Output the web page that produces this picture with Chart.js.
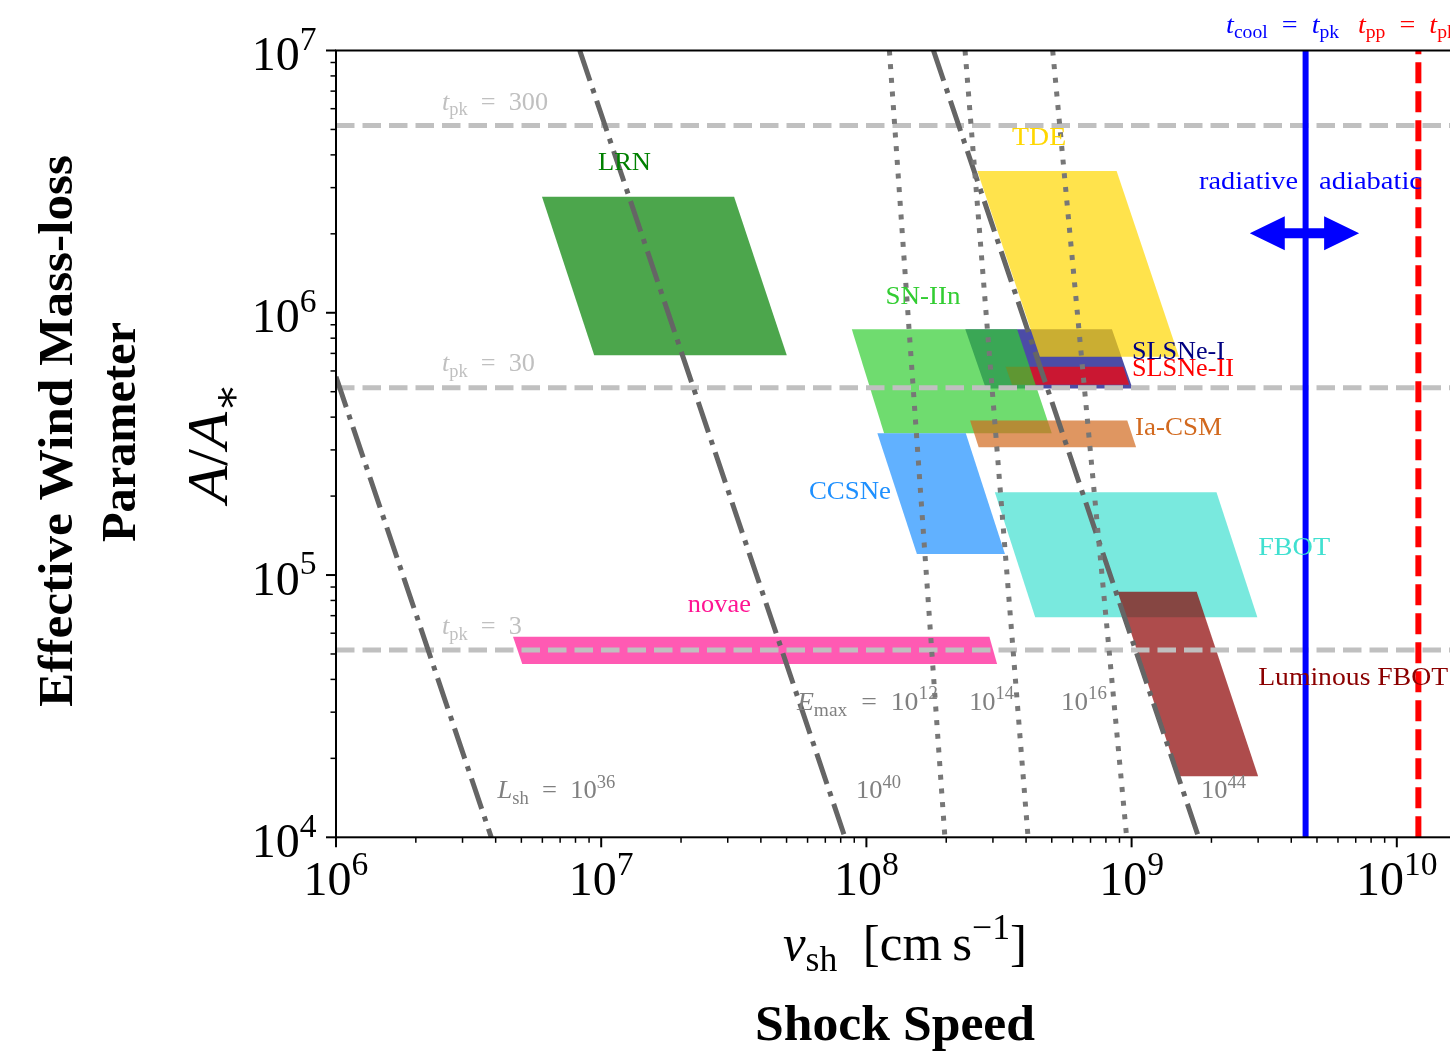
<!DOCTYPE html>
<html>
<head>
<meta charset="utf-8">
<script src="https://cdn.jsdelivr.net/npm/chart.js@4.4.1/dist/chart.umd.min.js"></script>
<style>
  html, body { margin: 0; padding: 0; background: #ffffff; overflow: hidden; width: 1450px; height: 1053px; }
  #wrap { position: absolute; left: 0; top: 0; width: 1560px; height: 1053px; }
</style>
</head>
<body>
<div id="wrap"><canvas id="c" width="1560" height="1053"></canvas></div>
<script>
// ---------------- data ----------------
// axis ranges: shock speed v_sh [cm/s] and wind parameter A/A*
const xRange = [1e6, 3.1623e10];
const yRange = [1e4, 1e7];
const xTickExp = [6, 7, 8, 9, 10];
const yTickExp = [4, 5, 6, 7];

// transient classes; corners listed top-left, top-right, bottom-right, bottom-left
const classNames = ['novae', 'LRN', 'SLSNe-I', 'SLSNe-II', 'SN-IIn', 'Ia-CSM', 'CCSNe', 'TDE', 'FBOT', 'Luminous FBOT'];
const novaeV = [4.65e6, 2.91e8, 3.11e8, 5.04e6];
const novaeA = [5.82e4, 5.82e4, 4.58e4, 4.58e4];
const lrnV   = [5.98e6, 3.17e7, 5.01e7, 9.41e6];
const lrnA   = [2.77e6, 2.77e6, 6.89e5, 6.89e5];
const slsn1V = [2.36e8, 8.43e8, 1.008e9, 2.82e8];
const slsn1A = [8.65e5, 8.65e5, 5.14e5, 5.14e5];
const slsn2V = [3.35e8, 9.30e8, 9.79e8, 3.54e8];
const slsn2A = [6.23e5, 6.23e5, 5.31e5, 5.31e5];
const sn2nV  = [8.81e7, 3.70e8, 5.00e8, 1.166e8];
const sn2nA  = [8.65e5, 8.65e5, 3.47e5, 3.47e5];
const iacsmV = [2.46e8, 9.63e8, 1.04e9, 2.65e8];
const iacsmA = [3.88e5, 3.88e5, 3.07e5, 3.07e5];
const ccsnV  = [1.10e8, 2.37e8, 3.33e8, 1.55e8];
const ccsnA  = [3.47e5, 3.47e5, 1.204e5, 1.204e5];
const tdeV   = [2.62e8, 8.78e8, 1.51e9, 4.51e8];
const tdeA   = [3.47e6, 3.47e6, 6.80e5, 6.80e5];
const fbotV  = [3.05e8, 2.09e9, 2.98e9, 4.33e8];
const fbotA  = [2.07e5, 2.07e5, 6.9e4, 6.9e4];
const lfbotV = [8.86e8, 1.76e9, 3.00e9, 1.50e9];
const lfbotA = [8.64e4, 8.64e4, 1.71e4, 1.71e4];

// peak-time contours (days) and their A/A* levels
const tpkValues = [300, 30, 3];
const tpkA = [5.18e6, 5.18e5, 5.18e4];

// shock luminosity contours, log10(L_sh) and end points (v, A)
const lshExp = [36, 40, 44];
const lshV = [[1.0e6, 3.85e6], [8.3e6, 8.3e7], [1.79e8, 1.79e9]];
const lshA = [[5.7e5, 1e4], [1e7, 1e4], [1e7, 1e4]];

// maximum particle energy contours, log10(E_max) and end points (v, A)
const emaxExp = [12, 14, 16];
const emaxV = [[1.221e8, 1.977e8], [2.355e8, 4.07e8], [5.04e8, 9.58e8]];
const emaxA = [[1e7, 1e4], [1e7, 1e4], [1e7, 1e4]];

// characteristic speeds
const tCoolV = 4.53e9;
const tPpV = 1.206e10;
const arrowV = [2.79e9, 7.21e9];
const arrowA = 2.01e6;

// ---------------- styling ----------------
const regionVerts = [
  [novaeV, novaeA], [lrnV, lrnA], [slsn1V, slsn1A], [slsn2V, slsn2A], [sn2nV, sn2nA],
  [iacsmV, iacsmA], [ccsnV, ccsnA], [tdeV, tdeA], [fbotV, fbotA], [lfbotV, lfbotA]
];
const regionRGB = ['255,20,147', '0,128,0', '0,0,128', '255,0,0', '50,205,50',
                   '210,105,30', '30,144,255', '255,215,0', '64,224,208', '139,0,0'];

function polygon(v, a) {
  const pts = v.map((x, i) => ({ x: x, y: a[i] }));
  pts.push({ x: v[0], y: a[0] });
  return pts;
}
function segment(v, a) {
  return [{ x: v[0], y: a[0] }, { x: v[1], y: a[1] }];
}

const datasets = [];
regionVerts.forEach(([v, a], i) => {
  datasets.push({
    label: classNames[i],
    data: polygon(v, a),
    showLine: true,
    fill: 'shape',
    backgroundColor: 'rgba(' + regionRGB[i] + ',0.7)',
    borderColor: 'rgba(0,0,0,0)',
    borderWidth: 0,
    pointRadius: 0,
    clip: 0
  });
});
tpkA.forEach((a, i) => {
  datasets.push({
    label: 't_pk=' + tpkValues[i],
    data: segment(xRange, [a, a]),
    showLine: true, fill: false,
    borderColor: '#c0c0c0', borderWidth: 5, borderDash: [18.5, 8],
    borderCapStyle: 'butt', pointRadius: 0, clip: 0
  });
});
lshExp.forEach((e, i) => {
  datasets.push({
    label: 'L_sh=1e' + e,
    data: segment(lshV[i], lshA[i]),
    showLine: true, fill: false,
    borderColor: '#656565', borderWidth: 5, borderDash: [32, 8, 5, 8],
    borderCapStyle: 'butt', pointRadius: 0, clip: 0
  });
});
emaxExp.forEach((e, i) => {
  datasets.push({
    label: 'E_max=1e' + e,
    data: segment(emaxV[i], emaxA[i]),
    showLine: true, fill: false,
    borderColor: '#777777', borderWidth: 5, borderDash: [5, 8.7],
    borderCapStyle: 'butt', pointRadius: 0, clip: 0
  });
});
datasets.push({
  label: 't_cool=t_pk',
  data: segment([tCoolV, tCoolV], yRange),
  showLine: true, fill: false, borderColor: '#0000ff', borderWidth: 6,
  pointRadius: 0, clip: 0
});
datasets.push({
  label: 't_pp=t_pk',
  data: segment([tPpV, tPpV], yRange),
  showLine: true, fill: false, borderColor: '#ff0000', borderWidth: 6,
  borderDash: [21, 8], borderCapStyle: 'butt', pointRadius: 0, clip: 0
});
// first entry is painted first
datasets.forEach((d, i) => { d.order = datasets.length - i; });

// ---------------- text helpers ----------------
const SERIF = '"Liberation Serif", "Times New Roman", "DejaVu Serif", serif';
function fontFor(kind, size, bold) {
  const small = kind === 'sub' || kind === 'sup';
  const s = small ? size * 0.7 : size;
  return (kind === 'i' ? 'italic ' : '') + (bold ? 'bold ' : '') + s.toFixed(2) + 'px ' + SERIF;
}
// segments: [text, kind] with kind r (roman), i (italic), sub, sup
function drawRich(ctx, segs, x, y, o) {
  ctx.save();
  let total = 0;
  const widths = segs.map(([t, k]) => {
    ctx.font = fontFor(k, o.size, o.bold);
    const w = ctx.measureText(t).width;
    total += w;
    return w;
  });
  const sx = o.width ? o.width / total : (o.sx || 1);
  ctx.translate(x, y);
  if (o.rotate) ctx.rotate(o.rotate);
  ctx.scale(sx, 1);
  let cx = o.align === 'center' ? -total / 2 : (o.align === 'right' ? -total : 0);
  const base = o.middle ? o.size * 0.33 : 0;
  ctx.fillStyle = o.color || '#000';
  ctx.textBaseline = 'alphabetic';
  ctx.textAlign = 'left';
  segs.forEach(([t, k], i) => {
    ctx.font = fontFor(k, o.size, o.bold);
    const dy = k === 'sub' ? o.size * 0.22 : (k === 'sup' ? -o.size * 0.42 : 0);
    ctx.fillText(t, cx, base + dy);
    cx += widths[i];
  });
  ctx.restore();
}

const EQ = '\u2002=\u2002';
const annotations = [
  { t: [[classNames[1], 'r']], v: 1.224e7, a: 3.76e6, align: 'center', color: '#008000', w: 53 },
  { t: [[classNames[7], 'r']], v: 4.48e8, a: 4.69e6, align: 'center', color: '#ffd700', w: 54 },
  { t: [[classNames[4], 'r']], v: 1.635e8, a: 1.162e6, align: 'center', color: '#32cd32', w: 75 },
  { t: [[classNames[2], 'r']], v: 1.003e9, a: 7.21e5, align: 'left', color: '#000080', w: 93 },
  { t: [[classNames[3], 'r']], v: 1.003e9, a: 6.18e5, align: 'left', color: '#ff0000', w: 102 },
  { t: [[classNames[5], 'r']], v: 1.03e9, a: 3.70e5, align: 'left', color: '#d2691e', w: 87 },
  { t: [[classNames[6], 'r']], v: 8.67e7, a: 2.10e5, align: 'center', color: '#1e90ff', w: 82 },
  { t: [[classNames[8], 'r']], v: 3.0e9, a: 1.29e5, align: 'left', color: '#40e0d0', w: 72 },
  { t: [[classNames[9], 'r']], v: 3.0e9, a: 4.12e4, align: 'left', color: '#8b0000', w: 190 },
  { t: [[classNames[0], 'r']], v: 2.79e7, a: 7.76e4, align: 'center', color: '#ff1493', w: 63 },
  { t: [['t', 'i'], ['pk', 'sub'], [EQ + tpkValues[0], 'r']], v: 2.51e6, a: 6.42e6, align: 'left', color: '#c0c0c0', w: 106 },
  { t: [['t', 'i'], ['pk', 'sub'], [EQ + tpkValues[1], 'r']], v: 2.51e6, a: 6.44e5, align: 'left', color: '#c0c0c0', w: 93 },
  { t: [['t', 'i'], ['pk', 'sub'], [EQ + tpkValues[2], 'r']], v: 2.51e6, a: 6.40e4, align: 'left', color: '#c0c0c0', w: 80 },
  { t: [['L', 'i'], ['sh', 'sub'], [EQ + '10', 'r'], [String(lshExp[0]), 'sup']], v: 4.06e6, a: 1.516e4, align: 'left', color: '#808080', w: 118 },
  { t: [['10', 'r'], [String(lshExp[1]), 'sup']], v: 9.14e7, a: 1.516e4, align: 'left', color: '#808080', w: 45 },
  { t: [['10', 'r'], [String(lshExp[2]), 'sup']], v: 1.827e9, a: 1.516e4, align: 'left', color: '#808080', w: 45 },
  { t: [['E', 'i'], ['max', 'sub'], [EQ + '10', 'r'], [String(emaxExp[0]), 'sup']], v: 5.47e7, a: 3.29e4, align: 'left', color: '#808080', w: 141 },
  { t: [['10', 'r'], [String(emaxExp[1]), 'sup']], v: 2.44e8, a: 3.29e4, align: 'left', color: '#808080', w: 45 },
  { t: [['10', 'r'], [String(emaxExp[2]), 'sup']], v: 5.42e8, a: 3.29e4, align: 'left', color: '#808080', w: 46 },
  { t: [['radiative', 'r']], v: 2.76e9, a: 3.21e6, align: 'center', color: '#0000ff', w: 99 },
  { t: [['adiabatic', 'r']], v: 7.96e9, a: 3.21e6, align: 'center', color: '#0000ff', w: 103 },
  { t: [['t', 'i'], ['cool', 'sub'], [EQ, 'r'], ['t', 'i'], ['pk', 'sub']], v: 3.71e9, a: 1.262e7, align: 'center', color: '#0000ff', w: 113 },
  { t: [['t', 'i'], ['pp', 'sub'], [EQ, 'r'], ['t', 'i'], ['pk', 'sub']], v: 7.14e9, a: 1.262e7, align: 'left', color: '#ff0000', sx: 1.08 }
];

// frame, ticks, labels, axis titles and the regime arrow (drawn above the data)
const axesLayer = {
  id: 'axesLayer',
  afterDatasetsDraw(chart) {
    const { ctx, chartArea: a, scales: { x: xs, y: ys } } = chart;

    // double-headed arrow across the cooling boundary
    const xl = xs.getPixelForValue(arrowV[0]);
    const xr = xs.getPixelForValue(arrowV[1]);
    const ya = ys.getPixelForValue(arrowA);
    const hl = 35, hw = 17, sw = 5;
    ctx.save();
    ctx.beginPath();
    ctx.moveTo(xl, ya);
    ctx.lineTo(xl + hl, ya - hw); ctx.lineTo(xl + hl, ya - sw);
    ctx.lineTo(xr - hl, ya - sw); ctx.lineTo(xr - hl, ya - hw);
    ctx.lineTo(xr, ya);
    ctx.lineTo(xr - hl, ya + hw); ctx.lineTo(xr - hl, ya + sw);
    ctx.lineTo(xl + hl, ya + sw); ctx.lineTo(xl + hl, ya + hw);
    ctx.closePath();
    ctx.fillStyle = '#0000ff';
    ctx.fill();
    ctx.restore();

    // in-plot annotations
    annotations.forEach(L => {
      drawRich(ctx, L.t, xs.getPixelForValue(L.v), ys.getPixelForValue(L.a),
        { size: 26, align: L.align, color: L.color, width: L.w, sx: L.sx, middle: true });
    });

    ctx.save();
    ctx.strokeStyle = '#000';
    ctx.lineWidth = 2;
    ctx.strokeRect(a.left, a.top, a.right - a.left, a.bottom - a.top);

    // x ticks (major and minor, outward)
    const xe0 = Math.floor(Math.log10(xs.min)), xe1 = Math.floor(Math.log10(xs.max));
    for (let e = xe0; e <= xe1; e++) {
      for (let m = 1; m <= 9; m++) {
        const v = m * Math.pow(10, e);
        if (v < xs.min * 0.9999 || v > xs.max) continue;
        const px = xs.getPixelForValue(v);
        ctx.lineWidth = m === 1 ? 2 : 1.5;
        ctx.beginPath();
        ctx.moveTo(px, a.bottom);
        ctx.lineTo(px, a.bottom + (m === 1 ? 10 : 5.5));
        ctx.stroke();
      }
    }
    const ye0 = Math.floor(Math.log10(ys.min)), ye1 = Math.floor(Math.log10(ys.max));
    for (let e = ye0; e <= ye1; e++) {
      for (let m = 1; m <= 9; m++) {
        const v = m * Math.pow(10, e);
        if (v < ys.min * 0.9999 || v > ys.max * 1.0001) continue;
        const py = ys.getPixelForValue(v);
        ctx.lineWidth = m === 1 ? 2 : 1.5;
        ctx.beginPath();
        ctx.moveTo(a.left, py);
        ctx.lineTo(a.left - (m === 1 ? 10 : 5.5), py);
        ctx.stroke();
      }
    }
    ctx.restore();

    xTickExp.forEach(e => {
      drawRich(ctx, [['10', 'r'], [String(e), 'sup']], xs.getPixelForValue(Math.pow(10, e)), a.bottom + 57.7,
        { size: 48, align: 'center', color: '#000' });
    });
    yTickExp.forEach(e => {
      drawRich(ctx, [['10', 'r'], [String(e), 'sup']], a.left - 19.5, ys.getPixelForValue(Math.pow(10, e)) + 19.5,
        { size: 48, align: 'right', color: '#000' });
    });

    // axis titles
    drawRich(ctx, [['v', 'i'], ['sh', 'sub'], ['\u2002[cm\u2009s', 'r'], ['\u22121', 'sup'], [']', 'r']],
      905, 960, { size: 50, align: 'center', width: 244, color: '#000' });
    drawRich(ctx, [['Shock Speed', 'r']], 895, 1040, { size: 50, bold: true, align: 'center', width: 280, color: '#000' });
    drawRich(ctx, [['A', 'i'], ['/', 'r'], ['A', 'i'], ['\u2217', 'sub']], 227, 443,
      { size: 58, rotate: -Math.PI / 2, align: 'center', width: 120, color: '#000' });
    drawRich(ctx, [['Effective Wind Mass-loss', 'r']], 72, 431,
      { size: 48, bold: true, rotate: -Math.PI / 2, align: 'center', width: 552, color: '#000' });
    drawRich(ctx, [['Parameter', 'r']], 135, 432,
      { size: 48, bold: true, rotate: -Math.PI / 2, align: 'center', width: 220, color: '#000' });
  }
};

new Chart(document.getElementById('c'), {
  type: 'scatter',
  data: { datasets: datasets },
  options: {
    responsive: false,
    animation: false,
    devicePixelRatio: 1,
    events: [],
    layout: { padding: { left: 336, top: 50.5, right: 30.6, bottom: 215.7 } },
    plugins: { legend: { display: false }, tooltip: { enabled: false } },
    elements: { point: { radius: 0 }, line: { tension: 0 } },
    scales: {
      x: { type: 'logarithmic', min: xRange[0], max: xRange[1], display: false },
      y: { type: 'logarithmic', min: yRange[0], max: yRange[1], display: false }
    }
  },
  plugins: [axesLayer]
});
</script>
</body>
</html>
